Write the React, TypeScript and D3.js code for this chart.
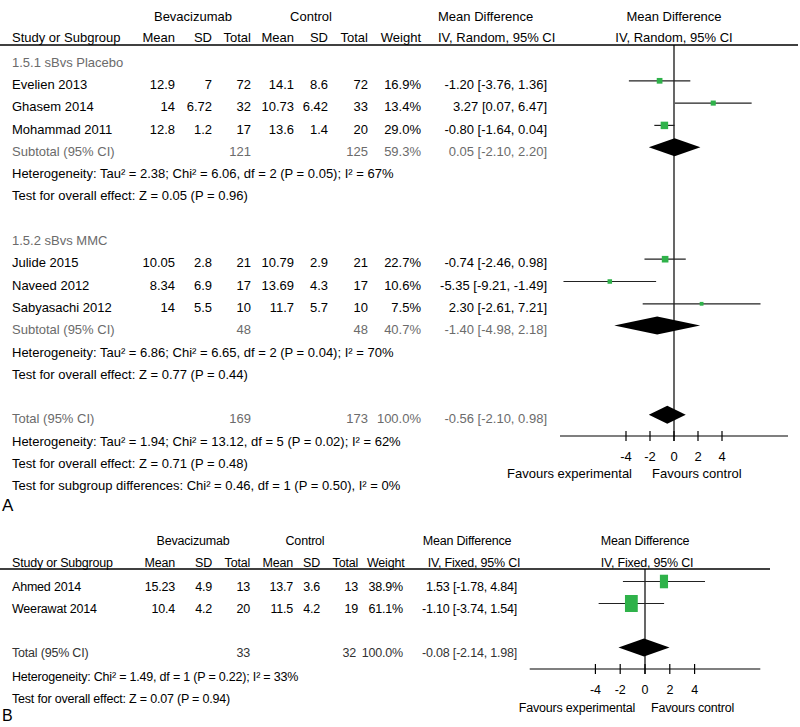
import * as d3 from 'd3';
import { useEffect, useRef } from 'react';

// Panel A: sB vs control, random effects
const studiesA = ['Evelien 2013', 'Ghasem 2014', 'Mohammad 2011', 'Julide 2015', 'Naveed 2012', 'Sabyasachi 2012'];
const groupOfA = [0, 0, 0, 1, 1, 1];
const expMeanA = [12.9, 14, 12.8, 10.05, 8.34, 14];
const expSdA = [7, 6.72, 1.2, 2.8, 6.9, 5.5];
const expTotalA = [72, 32, 17, 21, 17, 10];
const ctlMeanA = [14.1, 10.73, 13.6, 10.79, 13.69, 11.7];
const ctlSdA = [8.6, 6.42, 1.4, 2.9, 4.3, 5.7];
const ctlTotalA = [72, 33, 20, 21, 17, 10];
const weightA = [16.9, 13.4, 29.0, 22.7, 10.6, 7.5];
const mdA = [-1.2, 3.27, -0.8, -0.74, -5.35, 2.3];
const lowA = [-3.76, 0.07, -1.64, -2.46, -9.21, -2.61];
const highA = [1.36, 6.47, 0.04, 0.98, -1.49, 7.21];

const subgroupsA = ['1.5.1 sBvs Placebo', '1.5.2 sBvs MMC'];
const subExpTotalA = [121, 48];
const subCtlTotalA = [125, 48];
const subWeightA = [59.3, 40.7];
const subMdA = [0.05, -1.4];
const subLowA = [-2.1, -4.98];
const subHighA = [2.2, 2.18];
const subHetA = [
  'Heterogeneity: Tau² = 2.38; Chi² = 6.06, df = 2 (P = 0.05); I² = 67%',
  'Heterogeneity: Tau² = 6.86; Chi² = 6.65, df = 2 (P = 0.04); I² = 70%',
];
const subTestA = ['Test for overall effect: Z = 0.05 (P = 0.96)', 'Test for overall effect: Z = 0.77 (P = 0.44)'];

const totalA = { exp: 169, ctl: 173, weight: 100.0, md: -0.56, low: -2.1, high: 0.98 };
const totalNotesA = [
  'Heterogeneity: Tau² = 1.94; Chi² = 13.12, df = 5 (P = 0.02); I² = 62%',
  'Test for overall effect: Z = 0.71 (P = 0.48)',
  'Test for subgroup differences: Chi² = 0.46, df = 1 (P = 0.50), I² = 0%',
];

// Panel B: fixed effects
const studiesB = ['Ahmed 2014', 'Weerawat 2014'];
const expMeanB = [15.23, 10.4];
const expSdB = [4.9, 4.2];
const expTotalB = [13, 20];
const ctlMeanB = [13.7, 11.5];
const ctlSdB = [3.6, 4.2];
const ctlTotalB = [13, 19];
const weightB = [38.9, 61.1];
const mdB = [1.53, -1.1];
const lowB = [-1.78, -3.74];
const highB = [4.84, 1.54];
const totalB = { exp: 33, ctl: 32, weight: 100.0, md: -0.08, low: -2.14, high: 1.98 };
const totalNotesB = ['Heterogeneity: Chi² = 1.49, df = 1 (P = 0.22); I² = 33%', 'Test for overall effect: Z = 0.07 (P = 0.94)'];

const axisTicks = [-4, -2, 0, 2, 4];

const FONT = "'Liberation Sans Narrow', 'Arial Narrow', 'Liberation Sans', Arial, sans-serif";
const GREEN = '#2fb24a';
const GREY = '#6b6b6b';

const f2 = (v: number) => d3.format('.2f')(v).replace('\u2212', '-');
const pct = (v: number) => d3.format('.1f')(v) + '%';
const ciText = (m: number, l: number, h: number) => `${f2(m)} [${f2(l)}, ${f2(h)}]`;

const App = () => {
  const ref = useRef<SVGSVGElement>(null);

  useEffect(() => {
    const svg = d3.select(ref.current);
    svg.selectAll('*').remove();
    const root = svg.append('g').attr('font-family', FONT).attr('font-size', 13).attr('fill', '#000');
    let g = root.append('g');

    const txt = (x: number, y: number, s: string | number, anchor = 'start', color = '#000') =>
      g
        .append('text')
        .attr('x', x)
        .attr('y', y)
        .attr('dy', '0.36em')
        .attr('text-anchor', anchor)
        .attr('fill', color)
        .text(String(s));

    const diamond = (x: d3.ScaleLinear<number, number>, y: number, m: number, l: number, h: number) =>
      g
        .append('path')
        .attr('d', `M${x(l)},${y} L${x(m)},${y - 9} L${x(h)},${y} L${x(m)},${y + 9} Z`)
        .attr('fill', '#000');

    const drawAxis = (x: d3.ScaleLinear<number, number>, ay: number) => {
      const [r0, r1] = x.range();
      g.append('line').attr('x1', r0).attr('x2', r1).attr('y1', ay).attr('y2', ay).attr('stroke', '#000').attr('stroke-width', 1.2);
      axisTicks.forEach(t => {
        g.append('line')
          .attr('x1', x(t)).attr('x2', x(t))
          .attr('y1', ay - 5).attr('y2', ay + 5)
          .attr('stroke', '#000').attr('stroke-width', 1.2);
        txt(x(t), ay + 20, t, 'middle');
      });
    };

    // ---------- Panel A ----------
    const colA = { study: 12, eMean: 175, eSd: 212, eTot: 251, cMean: 294, cSd: 328, cTot: 368, wt: 421, md: 547 };
    const xA = d3.scaleLinear().domain([-9.5, 9.5]).range([560, 788]);
    const rowA = d3.scaleLinear().domain([0, 1]).range([62, 84.3]);
    const sizeA = d3.scaleSqrt().domain([0, 30]).range([0, 7.6]);
    const axisYA = 436;

    txt(193, 16, 'Bevacizumab', 'middle');
    txt(311, 16, 'Control', 'middle');
    txt(438, 16, 'Mean Difference');
    txt(xA(0), 16, 'Mean Difference', 'middle');
    txt(colA.study, 37, 'Study or Subgroup');
    txt(colA.eMean, 37, 'Mean', 'end');
    txt(colA.eSd, 37, 'SD', 'end');
    txt(colA.eTot, 37, 'Total', 'end');
    txt(colA.cMean, 37, 'Mean', 'end');
    txt(colA.cSd, 37, 'SD', 'end');
    txt(colA.cTot, 37, 'Total', 'end');
    txt(colA.wt, 37, 'Weight', 'end');
    txt(438, 37, 'IV, Random, 95% CI');
    txt(xA(0), 37, 'IV, Random, 95% CI', 'middle');
    g.append('line').attr('x1', 0).attr('x2', 798).attr('y1', 45).attr('y2', 45).attr('stroke', '#000').attr('stroke-width', 1.3);

    g.append('line')
      .attr('x1', xA(0)).attr('x2', xA(0))
      .attr('y1', 45).attr('y2', axisYA + 5)
      .attr('stroke', '#000').attr('stroke-width', 1.2);

    subgroupsA.forEach((label, gi) => {
      const base = gi * 8;
      txt(colA.study, rowA(base), label, 'start', GREY);
      studiesA.forEach((name, i) => {
        if (groupOfA[i] !== gi) return;
        const k = i - (gi === 0 ? 0 : 3);
        const y = rowA(base + 1 + k);
        txt(colA.study, y, name);
        txt(colA.eMean, y, expMeanA[i], 'end');
        txt(colA.eSd, y, expSdA[i], 'end');
        txt(colA.eTot, y, expTotalA[i], 'end');
        txt(colA.cMean, y, ctlMeanA[i], 'end');
        txt(colA.cSd, y, ctlSdA[i], 'end');
        txt(colA.cTot, y, ctlTotalA[i], 'end');
        txt(colA.wt, y, pct(weightA[i]), 'end');
        txt(colA.md, y, ciText(mdA[i], lowA[i], highA[i]), 'end');
        const my = y - 3.5;
        g.append('line')
          .attr('x1', xA(lowA[i])).attr('x2', xA(highA[i]))
          .attr('y1', my).attr('y2', my)
          .attr('stroke', '#222').attr('stroke-width', 1.2);
        const s = sizeA(weightA[i]);
        g.append('rect')
          .attr('x', xA(mdA[i]) - s / 2).attr('y', my - s / 2)
          .attr('width', s).attr('height', s)
          .attr('fill', GREEN);
      });
      const ys = rowA(base + 4);
      txt(colA.study, ys, 'Subtotal (95% CI)', 'start', GREY);
      txt(colA.eTot, ys, subExpTotalA[gi], 'end', GREY);
      txt(colA.cTot, ys, subCtlTotalA[gi], 'end', GREY);
      txt(colA.wt, ys, pct(subWeightA[gi]), 'end', GREY);
      txt(colA.md, ys, ciText(subMdA[gi], subLowA[gi], subHighA[gi]), 'end', GREY);
      diamond(xA, ys - 4, subMdA[gi], subLowA[gi], subHighA[gi]);
      txt(colA.study, rowA(base + 5), subHetA[gi]);
      txt(colA.study, rowA(base + 6), subTestA[gi]);
    });

    const yt = rowA(16);
    txt(colA.study, yt, 'Total (95% CI)', 'start', GREY);
    txt(colA.eTot, yt, totalA.exp, 'end', GREY);
    txt(colA.cTot, yt, totalA.ctl, 'end', GREY);
    txt(colA.wt, yt, pct(totalA.weight), 'end', GREY);
    txt(colA.md, yt, ciText(totalA.md, totalA.low, totalA.high), 'end', GREY);
    diamond(xA, yt - 4, totalA.md, totalA.low, totalA.high);
    totalNotesA.forEach((t, i) => txt(colA.study, rowA(17 + i), t));

    drawAxis(xA, axisYA);
    txt(xA(0) - 42, 473, 'Favours experimental', 'end');
    txt(xA(0) - 22, 473, 'Favours control', 'start');
    g.append('text').attr('x', 2).attr('y', 511).attr('font-family', 'Liberation Sans, Arial, sans-serif').attr('font-size', 17).text('A');

    // ---------- Panel B ----------
    g = root.append('g').attr('font-size', 12.5).attr('letter-spacing', -0.2);
    const colB = { study: 12, eMean: 175, eSd: 212, eTot: 250, cMean: 293, cSd: 320, cTot: 358, wt: 403, md: 517 };
    const xB = d3.scaleLinear().domain([-9.3, 9.3]).range([529.7, 760.3]);
    const rowB = d3.scaleLinear().domain([0, 1]).range([586, 608]);
    const wB = d3.scaleLinear().domain([0, 61.1]).range([0, 12.8]);
    const hB = d3.scaleSqrt().domain([0, 61.1]).range([0, 17]);
    const axisYB = 669;

    txt(193, 540, 'Bevacizumab', 'middle');
    txt(305, 540, 'Control', 'middle');
    txt(467, 540, 'Mean Difference', 'middle');
    txt(xB(0), 540, 'Mean Difference', 'middle');
    txt(colB.study, 562, 'Study or Subgroup');
    txt(colB.eMean, 562, 'Mean', 'end');
    txt(colB.eSd, 562, 'SD', 'end');
    txt(colB.eTot, 562, 'Total', 'end');
    txt(colB.cMean, 562, 'Mean', 'end');
    txt(colB.cSd, 562, 'SD', 'end');
    txt(colB.cTot, 562, 'Total', 'end');
    txt(367, 562, 'Weight');
    txt(474, 562, 'IV, Fixed, 95% CI', 'middle');
    txt(xB(0) + 2, 562, 'IV, Fixed, 95% CI', 'middle');
    g.append('line').attr('x1', 0).attr('x2', 770).attr('y1', 569).attr('y2', 569).attr('stroke', '#000').attr('stroke-width', 1.3);
    g.append('line')
      .attr('x1', xB(0)).attr('x2', xB(0))
      .attr('y1', 569).attr('y2', axisYB + 5)
      .attr('stroke', '#000').attr('stroke-width', 1.2);

    studiesB.forEach((name, i) => {
      const y = rowB(i);
      txt(colB.study, y, name);
      txt(colB.eMean, y, expMeanB[i], 'end');
      txt(colB.eSd, y, expSdB[i], 'end');
      txt(colB.eTot, y, expTotalB[i], 'end');
      txt(colB.cMean, y, ctlMeanB[i], 'end');
      txt(colB.cSd, y, ctlSdB[i], 'end');
      txt(colB.cTot, y, ctlTotalB[i], 'end');
      txt(colB.wt, y, pct(weightB[i]), 'end');
      txt(colB.md, y, ciText(mdB[i], lowB[i], highB[i]), 'end');
      const my = y - 4.5;
      g.append('line')
        .attr('x1', xB(lowB[i])).attr('x2', xB(highB[i]))
        .attr('y1', my).attr('y2', my)
        .attr('stroke', '#222').attr('stroke-width', 1.2);
      const w = wB(weightB[i]);
      const h = hB(weightB[i]);
      g.append('rect')
        .attr('x', xB(mdB[i]) - w / 2).attr('y', my - h / 2)
        .attr('width', w).attr('height', h)
        .attr('fill', GREEN);
    });

    const ytB = rowB(3);
    txt(colB.study, ytB, 'Total (95% CI)', 'start', '#333');
    txt(colB.eTot, ytB, totalB.exp, 'end', '#333');
    txt(colB.cTot - 2, ytB, totalB.ctl, 'end', '#333');
    txt(colB.wt, ytB, pct(totalB.weight), 'end', '#333');
    txt(colB.md, ytB, ciText(totalB.md, totalB.low, totalB.high), 'end', '#333');
    diamond(xB, ytB - 4.5, totalB.md, totalB.low, totalB.high);
    totalNotesB.forEach((t, i) => txt(colB.study, rowB(4) + 2 + i * 22, t));

    drawAxis(xB, axisYB);
    txt(xB(0) - 10, 707, 'Favours experimental', 'end');
    txt(xB(0) + 6, 707, 'Favours control', 'start');
    g.append('text').attr('x', 2).attr('y', 721).attr('letter-spacing', 0).attr('font-family', 'Liberation Sans, Arial, sans-serif').attr('font-size', 16).text('B');
  }, []);

  return (
    <svg
      ref={ref}
      width={800}
      height={727}
      style={{ position: 'absolute', left: 0, top: 0, background: '#fff', display: 'block' }}
    />
  );
};

export default App;
